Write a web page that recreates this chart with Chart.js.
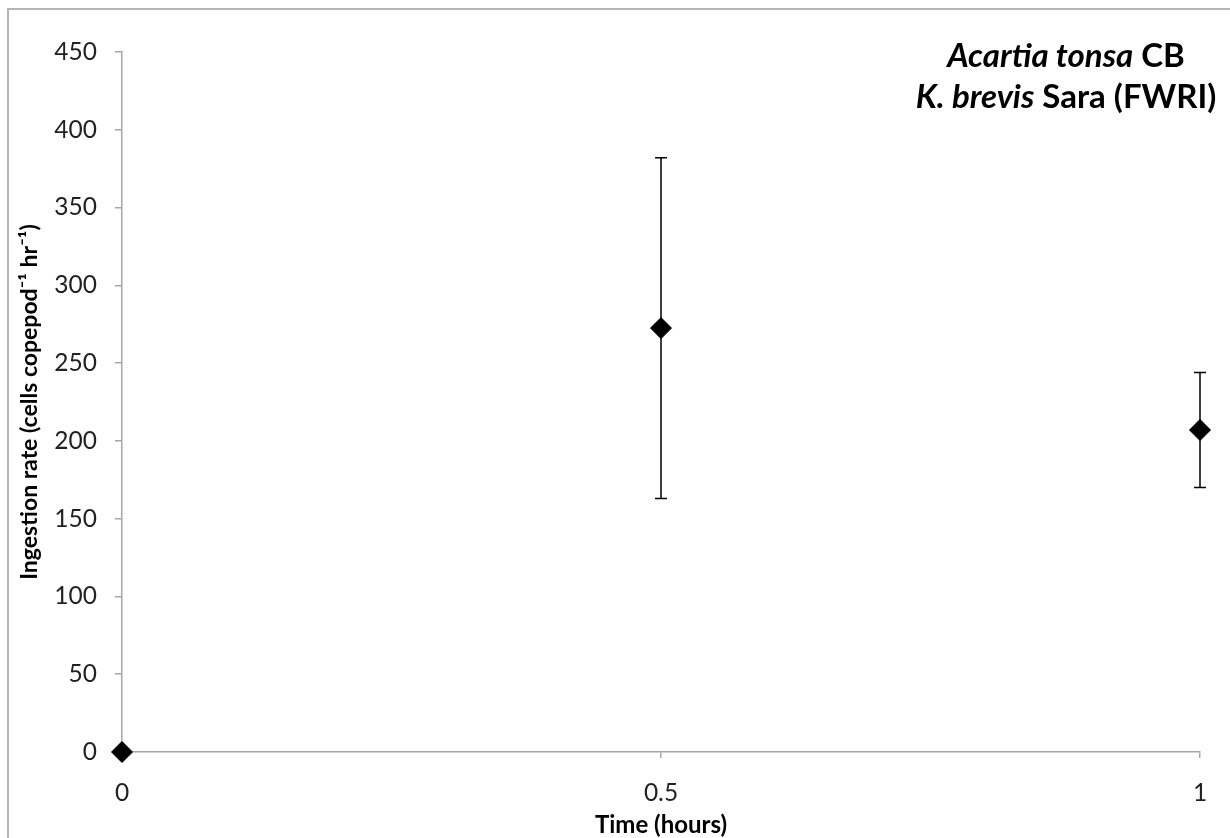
<!DOCTYPE html>
<html>
<head>
<meta charset="utf-8">
<script src="https://cdn.jsdelivr.net/npm/chart.js@4/dist/chart.umd.min.js"></script>
<style>
  html, body { margin: 0; padding: 0; background: #fff; overflow: hidden; }
  #frame { position: absolute; left: 7px; top: 8px; width: 1400px; height: 1000px;
           border-left: 2px solid #b4b4b4; border-top: 2px solid #b4b4b4; box-sizing: border-box; }
  #wrap { position: absolute; left: 0; top: 0; width: 1230px; height: 838px; }
  #note { position: absolute; left: 816px; top: 34px; width: 500px; text-align: center;
          font-family: Lato, "Open Sans", sans-serif; font-weight: bold; font-size: 33px;
          line-height: 41px; color: #000; white-space: nowrap; }
</style>
</head>
<body>
<div id="frame"></div>
<div id="wrap"><canvas id="c" width="1230" height="838"></canvas></div>
<div id="note"><i>Acartia tonsa</i> CB<br><i>K. brevis</i> Sara (FWRI)</div>
<script>
// Data
const times = [0, 0.5, 1];                 // Time (hours)
const ingestion = [0, 272.5, 207];         // cells copepod^-1 hr^-1
const errorBars = [0, 109.5, 37];          // ± error
const xTickValues = [0, 0.5, 1];
const yTickValues = [0, 50, 100, 150, 200, 250, 300, 350, 400, 450];

const points = times.map((t, i) => ({ x: t, y: ingestion[i] }));

const errorBarPlugin = {
  id: 'errorBars',
  beforeDatasetsDraw(chart) {
    const { ctx, scales: { x, y } } = chart;
    ctx.save();
    ctx.strokeStyle = '#000';
    ctx.lineWidth = 1.5;
    const cap = 6;
    times.forEach((t, i) => {
      const e = errorBars[i];
      if (!e) return;
      const px = x.getPixelForValue(t);
      const top = y.getPixelForValue(ingestion[i] + e);
      const bot = y.getPixelForValue(ingestion[i] - e);
      ctx.beginPath();
      ctx.moveTo(px, top); ctx.lineTo(px, bot);
      ctx.moveTo(px - cap, top); ctx.lineTo(px + cap, top);
      ctx.moveTo(px - cap, bot); ctx.lineTo(px + cap, bot);
      ctx.stroke();
    });
    ctx.restore();
  }
};

const tickFont = { family: 'Lato, "Open Sans", sans-serif', size: 24.5 };
const xTitleFont = { family: 'Lato, "Open Sans", sans-serif', size: 24, weight: 'bold', lineHeight: 1.2 };
const yTitleFont = { family: 'Lato, "Open Sans", sans-serif', size: 23, weight: 'bold', lineHeight: 1.2 };

new Chart(document.getElementById('c'), {
  type: 'scatter',
  data: {
    datasets: [{
      data: points,
      pointStyle: 'rectRot',
      pointRadius: 10.5,
      pointHoverRadius: 10.5,
      backgroundColor: '#000',
      borderColor: '#000',
      borderWidth: 1,
      showLine: false,
      clip: false
    }]
  },
  options: {
    responsive: false,
    devicePixelRatio: 1,
    animation: false,
    events: [],
    layout: { padding: { left: 0, top: 52, right: 30, bottom: 0 } },
    plugins: { legend: { display: false }, tooltip: { enabled: false }, title: { display: false } },
    scales: {
      x: {
        type: 'linear',
        min: 0, max: 1,
        afterBuildTicks(scale) { scale.ticks = xTickValues.map(v => ({ value: v })); },
        afterFit(scale) { scale.height = 86; },
        grid: { drawOnChartArea: false, drawTicks: true, tickLength: 6, color: '#a6a6a6', lineWidth: 1.5 },
        border: { display: true, color: '#a6a6a6', width: 1.5 },
        ticks: { font: tickFont, color: '#222', padding: 20, maxRotation: 0,
                 callback: (v) => String(v) },
        title: { display: true, text: 'Time (hours)', font: xTitleFont, color: '#000', padding: { top: 0, bottom: -2 } }
      },
      y: {
        type: 'linear',
        min: 0, max: 450,
        afterBuildTicks(scale) { scale.ticks = yTickValues.map(v => ({ value: v })); },
        afterFit(scale) { scale.width = 122; },
        grid: { drawOnChartArea: false, drawTicks: true, tickLength: 7, color: '#a6a6a6', lineWidth: 1.5 },
        border: { display: true, color: '#a6a6a6', width: 1.5 },
        ticks: { font: tickFont, color: '#222', padding: 18, callback: (v) => String(v) },
        title: { display: true, text: 'Ingestion rate (cells copepod\u207B\u00B9 hr\u207B\u00B9)', font: yTitleFont, color: '#000', padding: { top: 16, bottom: 0 } }
      }
    }
  },
  plugins: [errorBarPlugin]
});
</script>
</body>
</html>
